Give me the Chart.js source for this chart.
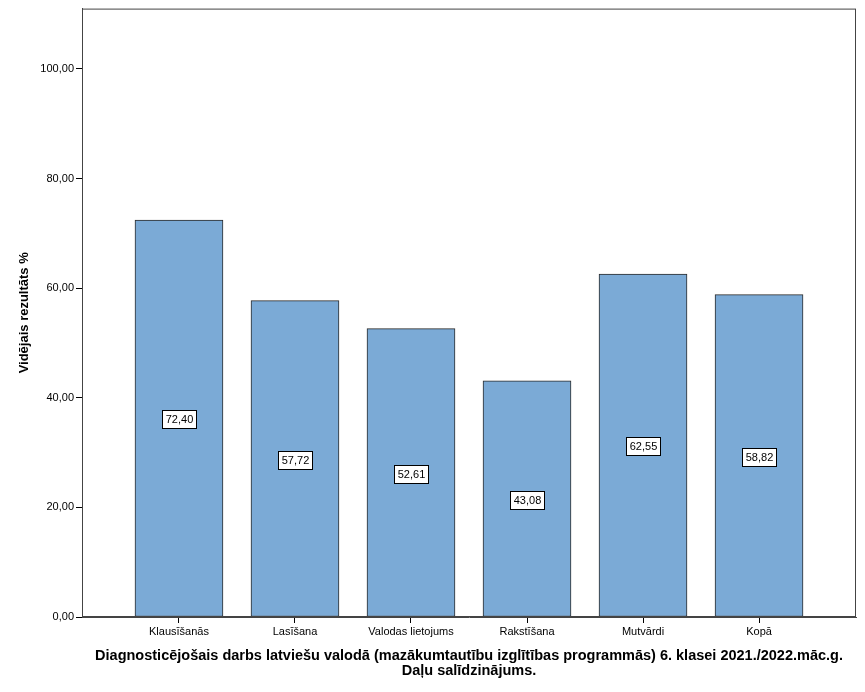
<!DOCTYPE html>
<html>
<head>
<meta charset="utf-8">
<script src="https://cdn.jsdelivr.net/npm/chart.js@4"></script>
<style>
  body { margin: 0; background: #fff; }
  canvas { display: block; }
</style>
</head>
<body>
<canvas id="myChart" width="865" height="692"></canvas>
<script>
const ctx = document.getElementById('myChart');

const categories = ['Klausīšanās', 'Lasīšana', 'Valodas lietojums', 'Rakstīšana', 'Mutvārdi', 'Kopā'];
const values = [72.40, 57.72, 52.61, 43.08, 62.55, 58.82];
const yTicks = [0, 20, 40, 60, 80, 100];

const fmt = v => v.toFixed(2).replace('.', ',');

// frame around plot area + value boxes in middle of bars
const extras = {
    id: 'extras',
    afterDatasetsDraw(chart) {
        const c = chart.ctx;
        const a = chart.chartArea;
        c.save();
        c.strokeStyle = '#444';
        c.lineWidth = 1;
        c.strokeRect(a.left + 0.5, a.top + 0.5, a.right - a.left - 1, a.bottom - a.top - 1);

        c.font = '11px "Liberation Sans", Arial, sans-serif';
        c.textAlign = 'center';
        c.textBaseline = 'middle';
        chart.getDatasetMeta(0).data.forEach((bar, i) => {
            const txt = fmt(values[i]);
            const w = Math.round(c.measureText(txt).width + 6);
            const h = 18;
            const x = Math.round(bar.x);
            const y = Math.round((bar.y + bar.base) / 2) + 1;
            const l = Math.round(x - w / 2);
            c.fillStyle = '#fff';
            c.fillRect(l, y - h / 2, w, h);
            c.strokeStyle = '#000';
            c.strokeRect(l + 0.5, y - h / 2 + 0.5, w, h);
            c.fillStyle = '#000';
            c.fillText(txt, x + 0.5, y + 1);
        });
        c.restore();
    }
};

new Chart(ctx, {
    type: 'bar',
    data: {
        datasets: [{
            data: values.map((v, i) => ({ x: i, y: v })),
            backgroundColor: '#7BAAD6',
            borderColor: '#2a2a2a',
            borderWidth: 1,
            borderSkipped: false,
            barThickness: 88
        }]
    },
    options: {
        responsive: false,
        animation: false,
        layout: { padding: { top: 7, right: 9, left: 0, bottom: 0 } },
        plugins: {
            legend: { display: false },
            tooltip: { enabled: false }
        },
        scales: {
            x: {
                type: 'linear',
                offset: false,
                min: -0.836,
                max: 5.836,
                afterBuildTicks: s => { s.ticks = categories.map((_, i) => ({ value: i })); },
                afterFit: s => { s.height = 75; },
                grid: { offset: false, drawOnChartArea: false, tickLength: 6, tickColor: '#000' },
                border: { color: '#444' },
                ticks: {
                    callback: v => categories[v],
                    autoSkip: false,
                    maxRotation: 0,
                    padding: 2,
                    color: '#000',
                    font: { family: '"Liberation Sans", Arial, sans-serif', size: 11 }
                },
                title: {
                    display: true,
                    text: ['Diagnosticējošais darbs latviešu valodā (mazākumtautību izglītības programmās) 6. klasei 2021./2022.māc.g.', 'Daļu salīdzinājums.'],
                    color: '#000',
                    font: { family: '"Liberation Sans", Arial, sans-serif', size: 14.5, weight: 'bold', lineHeight: 1.0 },
                    padding: { top: 0, bottom: 14 }
                }
            },
            y: {
                min: 0,
                max: 111,
                afterBuildTicks: s => { s.ticks = yTicks.map(v => ({ value: v })); },
                afterFit: s => { s.width = 82; },
                grid: { drawOnChartArea: false, tickLength: 6, tickColor: '#000' },
                border: { color: '#444' },
                ticks: {
                    callback: v => fmt(v),
                    padding: 2,
                    color: '#000',
                    font: { family: '"Liberation Sans", Arial, sans-serif', size: 11 }
                },
                title: {
                    display: true,
                    text: 'Vidējais rezultāts %',
                    color: '#000',
                    font: { family: '"Liberation Sans", Arial, sans-serif', size: 13, weight: 'bold' },
                    padding: { top: 17, bottom: 0 }
                }
            }
        }
    },
    plugins: [extras]
});
</script>
</body>
</html>
